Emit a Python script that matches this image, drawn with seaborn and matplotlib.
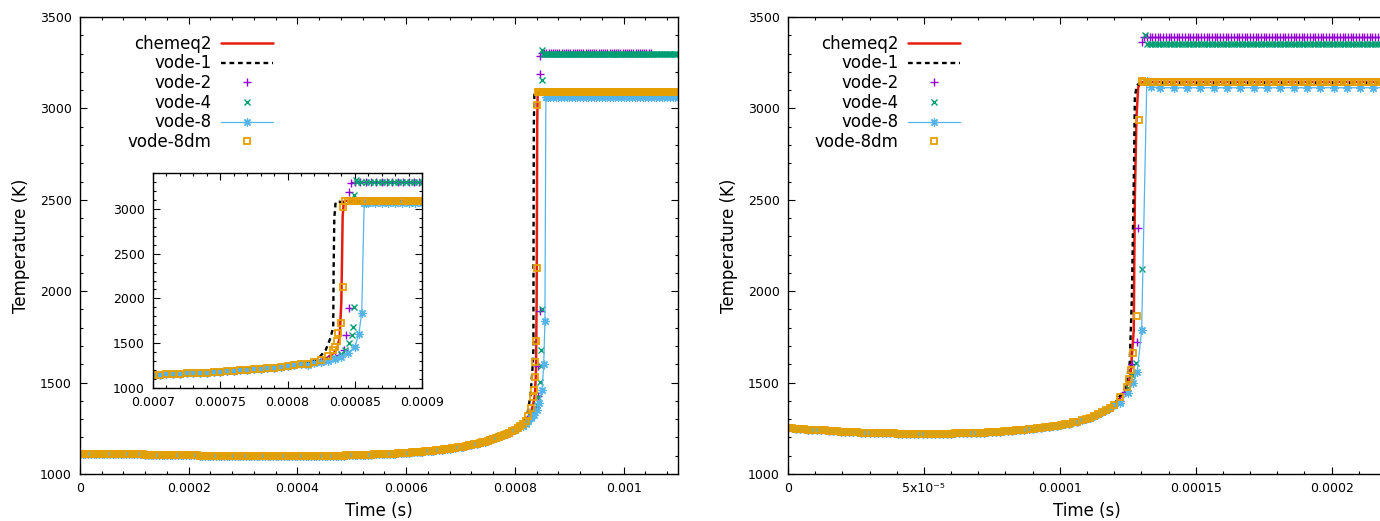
import numpy as np
import pandas as pd
import matplotlib
matplotlib.use('Agg')
import matplotlib.pyplot as plt
from matplotlib.ticker import MultipleLocator, FuncFormatter
import seaborn as sns

sns.set_style('ticks')
plt.rcParams['font.family'] = ['DejaVu Sans']
for key in ['text.color', 'axes.labelcolor', 'xtick.color', 'ytick.color']:
    plt.rcParams[key] = 'black'

labels = ['chemeq2', 'vode-1', 'vode-2', 'vode-4', 'vode-8', 'vode-8dm']
red, purple, green, blue, orange = '#e51e10', '#9400d3', '#009e73', '#56b4e9', '#e69f00'

# ---------------- left run (times in microseconds, T in K), output every 5 us
left_slow_t = list(range(0, 815, 5))
left_slow_T = [1112, 1112, 1112, 1112, 1111, 1111, 1111, 1111, 1110, 1110,
               1110, 1110, 1109, 1109, 1109, 1109, 1108, 1108, 1108, 1108,
               1107, 1107, 1107, 1107, 1106, 1106, 1106, 1106, 1105, 1105,
               1105, 1105, 1104, 1104, 1104, 1104, 1103, 1103, 1103, 1103,
               1102, 1102, 1102, 1102, 1101, 1101, 1101, 1101, 1101, 1101,
               1100, 1100, 1100, 1100, 1100, 1100, 1099, 1099, 1099, 1099,
               1099, 1099, 1099, 1099, 1098, 1098, 1098, 1098, 1098, 1098,
               1098, 1098, 1098, 1098, 1098, 1098, 1098, 1098, 1098, 1098,
               1098, 1098, 1098, 1098, 1099, 1099, 1099, 1099, 1099, 1099,
               1100, 1100, 1100, 1100, 1101, 1101, 1101, 1101, 1102, 1102,
               1103, 1103, 1104, 1104, 1105, 1105, 1106, 1106, 1107, 1107,
               1108, 1108, 1109, 1110, 1111, 1111, 1112, 1113, 1114, 1115,
               1116, 1117, 1118, 1119, 1120, 1121, 1123, 1124, 1125, 1127,
               1128, 1130, 1131, 1133, 1135, 1137, 1139, 1141, 1143, 1145,
               1147, 1150, 1153, 1156, 1159, 1162, 1165, 1169, 1173, 1177,
               1181, 1186, 1191, 1196, 1201, 1207, 1213, 1220, 1227, 1235,
               1243, 1252, 1263]

left_chemeq2_t = [0, 100, 200, 300, 400, 500, 600, 700, 800, 820, 830, 835, 837,
                  838.8, 839.5, 840, 840.5, 841, 841.8, 843, 850, 900, 1000, 1100]
left_chemeq2_T = [1112, 1107, 1102, 1099, 1098, 1103, 1116, 1147, 1243, 1290, 1340, 1400, 1440,
                  1569, 1800, 1949, 2400, 2908, 3076, 3088, 3090, 3090, 3090, 3090]
left_vode1_t = [0, 100, 200, 300, 400, 500, 600, 700, 800, 815, 822.4, 828.4, 832,
                834, 834.3, 834.8, 835.8, 838, 850, 1000, 1100]
left_vode1_T = [1112, 1107, 1102, 1099, 1098, 1103, 1116, 1148, 1250, 1280, 1320, 1424, 1560,
                1681, 2317, 2900, 3076, 3078, 3078, 3078, 3078]

left_vode2_t = [815, 820, 825, 830, 835, 838, 841.8, 843.3, 845.5, 845.5, 847]
left_vode2_T = [1270, 1285, 1300, 1320, 1345, 1368, 1424, 1592, 1893, 3187, 3288]
left_vode2_plateau = (np.arange(850, 1051, 4), 3304)

left_vode4_t = [815, 820, 825, 830, 835, 840, 843, 846, 848, 848.5, 849.3, 849.3, 850.7]
left_vode4_T = [1265, 1280, 1295, 1315, 1340, 1380, 1420, 1502, 1592, 1681, 1904, 3154, 3321]
left_vode4_plateau = (np.arange(852, 1101, 3), 3300)

left_vode8_t = [815, 820, 825, 830, 835, 840, 845, 850, 853, 855.2, 857, 858]
left_vode8_T = [1262, 1275, 1290, 1305, 1325, 1350, 1390, 1458, 1600, 1837, 3062, 3060]
left_vode8_plateau = (np.arange(860, 1101, 5), 3060)

left_vode8dm_t = [815, 820, 825, 830, 833.5, 835, 836.5, 837.3, 839.6, 841.0, 841.5]
left_vode8dm_T = [1272, 1290, 1318, 1360, 1420, 1460, 1530, 1614, 1725, 2127, 3020]
left_vode8dm_plateau = (np.arange(843, 1101, 2), 3088)

# ---------------- right run, output every 1.5 us
right_slow_t = [i * 1.5 for i in range(81)]
right_slow_T = [1250, 1249, 1247, 1246, 1245, 1243, 1242, 1241, 1239, 1238,
                1236, 1235, 1234, 1232, 1231, 1230, 1229, 1228, 1227, 1226,
                1225, 1224, 1224, 1223, 1223, 1222, 1222, 1221, 1221, 1221,
                1220, 1220, 1220, 1220, 1220, 1220, 1220, 1220, 1221, 1221,
                1221, 1222, 1222, 1223, 1224, 1224, 1225, 1226, 1227, 1228,
                1230, 1231, 1232, 1234, 1235, 1237, 1239, 1240, 1242, 1245,
                1248, 1250, 1253, 1256, 1259, 1262, 1265, 1268, 1271, 1276,
                1282, 1287, 1293, 1300, 1307, 1316, 1327, 1337, 1350, 1362,
                1378]

right_chemeq2_t = [0, 20, 40, 60, 80, 100, 110, 116, 120, 124, 126, 127.2, 127.6,
                   128.2, 128.8, 129.4, 131, 150, 200, 220]
right_chemeq2_T = [1250, 1232, 1221, 1221, 1235, 1267, 1300, 1337, 1378, 1450, 1540, 1786, 2513,
                   2950, 3110, 3140, 3145, 3145, 3145, 3145]
right_vode1_t = [0, 20, 40, 60, 80, 100, 110, 116, 120, 124, 125.7, 126.5, 127.2,
                 127.6, 128.2, 129, 131, 150, 200, 220]
right_vode1_T = [1250, 1232, 1221, 1221, 1235, 1267, 1300, 1337, 1380, 1470, 1605, 1966, 2600,
                 3060, 3120, 3135, 3140, 3140, 3140, 3140]

right_vode2_t = [122, 124, 126.5, 128.3, 128.7, 130.1]
right_vode2_T = [1400, 1450, 1600, 1720, 2343, 3361]
right_vode2_plateau = (np.arange(131, 221, 1), 3388)

right_vode4_t = [122, 125, 126.5, 127.9, 130.1, 131.3]
right_vode4_T = [1395, 1470, 1540, 1605, 2119, 3400]
right_vode4_plateau = (np.arange(132, 221, 1), 3355)

right_vode8_t = [122, 125, 127, 128.5, 130.1, 132.0, 133.5]
right_vode8_T = [1390, 1441, 1500, 1560, 1786, 3150, 3118]
right_vode8_plateau = (np.arange(137, 221, 4.9), 3113)

right_vode8dm_t = [122, 124.6, 125.4, 126.1, 126.8, 128.3, 129.0, 130.1]
right_vode8dm_T = [1421, 1476, 1520, 1569, 1660, 1862, 2934, 3148]
right_vode8dm_plateau = (np.arange(131, 221, 1.25), 3146)


def frame(t, T):
    return pd.DataFrame({'t': np.asarray(t, float) * 1e-6, 'T': np.asarray(T, float)})


def solver_run(slow_t, slow_T, tail_t, tail_T, plateau):
    pt, pT = plateau
    t = list(slow_t) + list(tail_t) + list(pt)
    T = list(slow_T) + list(tail_T) + [pT] * len(pt)
    return frame(t, T)


left = {
    'chemeq2': frame(left_chemeq2_t, left_chemeq2_T),
    'vode-1': frame(left_vode1_t, left_vode1_T),
    'vode-2': solver_run(left_slow_t, left_slow_T, left_vode2_t, left_vode2_T, left_vode2_plateau),
    'vode-4': solver_run(left_slow_t, left_slow_T, left_vode4_t, left_vode4_T, left_vode4_plateau),
    'vode-8': solver_run(left_slow_t, left_slow_T, left_vode8_t, left_vode8_T, left_vode8_plateau),
    'vode-8dm': solver_run(left_slow_t, left_slow_T, left_vode8dm_t, left_vode8dm_T, left_vode8dm_plateau),
}
right = {
    'chemeq2': frame(right_chemeq2_t, right_chemeq2_T),
    'vode-1': frame(right_vode1_t, right_vode1_T),
    'vode-2': solver_run(right_slow_t, right_slow_T, right_vode2_t, right_vode2_T, right_vode2_plateau),
    'vode-4': solver_run(right_slow_t, right_slow_T, right_vode4_t, right_vode4_T, right_vode4_plateau),
    'vode-8': solver_run(right_slow_t, right_slow_T, right_vode8_t, right_vode8_T, right_vode8_plateau),
    'vode-8dm': solver_run(right_slow_t, right_slow_T, right_vode8dm_t, right_vode8dm_T, right_vode8dm_plateau),
}

styles = {
    'chemeq2': dict(color=red, linewidth=1.8),
    'vode-1': dict(color='black', linewidth=1.7, linestyle=(0, (2, 1.6))),
    'vode-2': dict(color=purple, linestyle='', marker='+', markersize=5.5,
                   markeredgewidth=1, markeredgecolor=purple),
    'vode-4': dict(color=green, linestyle='', marker='x', markersize=5,
                   markeredgewidth=1, markeredgecolor=green),
    'vode-8': dict(color=blue, linewidth=0.9, marker=(8, 2, 0), markersize=6,
                   markeredgewidth=0.9, markeredgecolor=blue),
    'vode-8dm': dict(color=orange, linestyle='', marker='s', markersize=4.2,
                     markerfacecolor='none', markeredgewidth=1.3, markeredgecolor=orange),
}


def draw(ax, runs):
    handles = []
    for name in labels:
        sns.lineplot(data=runs[name], x='t', y='T', ax=ax, sort=False, estimator=None,
                     legend=False, label=name, **styles[name])
        handles.append(ax.lines[-1])
    return handles


def tick_fmt(v, pos):
    s = f"{v:g}"
    if 'e' in s:
        m, e = s.split('e')
        sup = str.maketrans('-0123456789', '⁻⁰¹²³⁴⁵⁶⁷⁸⁹')
        return f"{m}x10" + str(int(e)).translate(sup)
    return s


def style_axes(ax, xmaj, xmin, right=True, size=9):
    ax.xaxis.set_major_locator(MultipleLocator(xmaj))
    ax.xaxis.set_minor_locator(MultipleLocator(xmin))
    ax.yaxis.set_major_locator(MultipleLocator(500))
    ax.yaxis.set_minor_locator(MultipleLocator(100))
    ax.xaxis.set_major_formatter(FuncFormatter(tick_fmt))
    ax.tick_params(which='both', direction='in', top=True, right=right, labelsize=size,
                   width=0.8, colors='black')
    ax.tick_params(which='major', length=5, pad=6)
    ax.tick_params(which='minor', length=2.5)
    for sp in ax.spines.values():
        sp.set_linewidth(1.0)
        sp.set_color('black')


fig = plt.figure(figsize=(13.8, 5.21), dpi=100)
axL = fig.add_axes([80 / 1380, 1 - 474 / 521, 598 / 1380, 457 / 521])
axR = fig.add_axes([788 / 1380, 1 - 474 / 521, 598 / 1380, 457 / 521])
axI = fig.add_axes([153 / 1380, 1 - 388 / 521, 269 / 1380, 215 / 521])

for ax, runs, xmax, xmaj, xmin, x0, rt in [(axL, left, 0.0011, 0.0002, 0.00004, 0.080, True),
                                           (axR, right, 0.00022, 0.00005, 0.00001, 0.045, False)]:
    handles = draw(ax, runs)
    ax.set_xlim(0, xmax)
    ax.set_ylim(1000, 3500)
    style_axes(ax, xmaj, xmin, right=rt)
    ax.set_xlabel('Time (s)', fontsize=12)
    ax.xaxis.set_label_coords(0.5, -0.062)
    ax.set_ylabel('Temperature (K)', fontsize=12, labelpad=7)
    ax.legend(handles, labels, loc='upper left', bbox_to_anchor=(x0, 0.961),
              frameon=False, markerfirst=False, fontsize=12, handlelength=3.1,
              handletextpad=0.55, labelspacing=0.1, borderpad=0, borderaxespad=0,
              numpoints=1)

draw(axI, left)
axI.set_xlim(0.0007, 0.0009)
axI.set_ylim(1000, 3400)
style_axes(axI, 0.00005, 0.00001)
axI.set_xlabel('')
axI.set_ylabel('')
axI.set_facecolor('white')
if axI.get_legend() is not None:
    axI.get_legend().remove()

fig.savefig('out.png', dpi=100)
